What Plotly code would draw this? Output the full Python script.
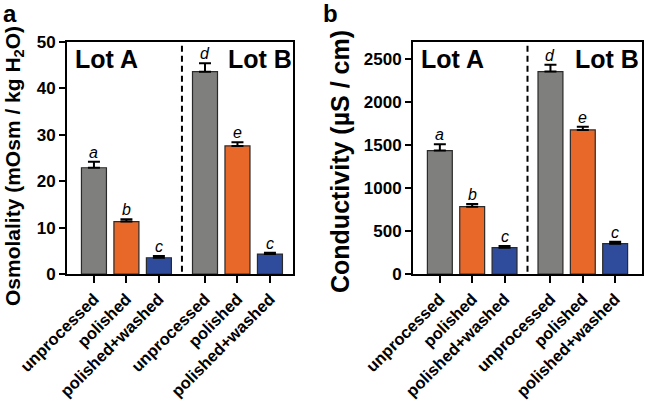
import plotly.graph_objects as go

# ---------------- data ----------------
categories = ["unprocessed", "polished", "polished+washed",
              "unprocessed", "polished", "polished+washed"]
lots = ["Lot A", "Lot B"]
osm_values = [22.9, 11.3, 3.5, 43.6, 27.6, 4.3]
osm_errors = [1.3, 0.5, 0.4, 1.8, 0.8, 0.3]
cond_values = [1436, 784, 306, 2356, 1677, 353]
cond_errors = [75, 30, 20, 78, 38, 22]
sig_letters = ["a", "b", "c", "d", "e", "c"]
osm_ticks = [0, 10, 20, 30, 40, 50]
cond_ticks = [0, 500, 1000, 1500, 2000, 2500]

# ---------------- style ----------------
W, H = 646, 404
FONT = "Liberation Sans, Arial, Helvetica, sans-serif"
colors = ["#7f7f7d", "#e8682a", "#2f4c9c"] * 2
GROUP_GAP = 0.42
xpos = [i + (GROUP_GAP if i >= 3 else 0) for i in range(len(categories))]
divider = (xpos[2] + xpos[3]) / 2

def px_x(p):
    return p / W

def px_y(p):
    return 1 - p / H

fig = go.Figure()

panels = [
    dict(vals=osm_values, errs=osm_errors, xa="x", ya="y",
         dom=[px_x(67), px_x(293)], rng=[-0.83, xpos[-1] + 0.71],
         yr=[0, 50], ticks=osm_ticks),
    dict(vals=cond_values, errs=cond_errors, xa="x2", ya="y2",
         dom=[px_x(413), px_x(642)], rng=[-0.83, xpos[-1] + 0.83],
         yr=[0, 2700], ticks=cond_ticks),
]

ydom = [px_y(274), px_y(42)]

for k, p in enumerate(panels):
    fig.add_trace(go.Bar(
        x=xpos, y=p["vals"], width=0.77,
        marker=dict(color=colors, line=dict(color="#2a2a2a", width=1.2)),
        error_y=dict(type="data", symmetric=False, array=p["errs"],
                     arrayminus=[0] * len(p["vals"]),
                     color="black", thickness=2, width=6),
        xaxis=p["xa"], yaxis=p["ya"], showlegend=False, hoverinfo="skip",
    ))
    sfx = "" if k == 0 else str(k + 1)
    fig.update_layout(**{
        "xaxis" + sfx: dict(
            domain=p["dom"], range=p["rng"], anchor=p["ya"],
            tickvals=xpos, ticktext=categories, tickangle=-45,
            tickfont=dict(family=FONT, size=16.5, color="black", weight="bold"),
            ticks="outside", ticklen=7, tickwidth=2, tickcolor="black",
            showline=True, linecolor="black", linewidth=2, mirror=True,
            showgrid=False, zeroline=False, automargin=False,
        ),
        "yaxis" + sfx: dict(
            domain=ydom, range=p["yr"], anchor=p["xa"],
            tickvals=p["ticks"],
            tickfont=dict(family=FONT, size=17, color="black", weight="bold"),
            ticks="outside", ticklen=6, tickwidth=2, tickcolor="black",
            showline=True, linecolor="black", linewidth=2, mirror=True,
            showgrid=False, zeroline=False, automargin=False,
        ),
    })
    # divider line
    fig.add_shape(type="line", xref=p["xa"], yref=p["ya"] + " domain",
                  x0=divider, x1=divider, y0=0.01, y1=0.99,
                  line=dict(color="black", width=2, dash="6px,4px"))
    # significance letters
    for xi, v, e, L in zip(xpos, p["vals"], p["errs"], sig_letters):
        fig.add_annotation(x=xi, y=v + e, xref=p["xa"], yref=p["ya"],
                           text="<i>" + L + "</i>", showarrow=False,
                           yanchor="bottom", yshift=-1,
                           font=dict(family=FONT, size=16, color="black"))

# Lot labels
for cx, L in [(106, "Lot A"), (260, "Lot B"), (452, "Lot A"), (607, "Lot B")]:
    fig.add_annotation(x=px_x(cx), y=px_y(59), xref="paper", yref="paper",
                       text="<b>" + L + "</b>", showarrow=False,
                       xanchor="center", yanchor="middle",
                       font=dict(family=FONT, size=25, color="black"))

# axis titles
fig.add_annotation(x=px_x(14), y=px_y(166), xref="paper", yref="paper",
                   text="<b>Osmolality (mOsm / kg H<sub>2</sub>O)</b>",
                   textangle=-90, showarrow=False,
                   xanchor="center", yanchor="middle",
                   font=dict(family=FONT, size=21, color="black"))
fig.add_annotation(x=px_x(340), y=px_y(162), xref="paper", yref="paper",
                   text="<b>Conductivity (µS / cm)</b>",
                   textangle=-90, showarrow=False,
                   xanchor="center", yanchor="middle",
                   font=dict(family=FONT, size=25, color="black"))

# panel letters
for x0, L in [(1, "a"), (321, "b")]:
    fig.add_annotation(x=px_x(x0), y=px_y(-2), xref="paper", yref="paper",
                       text="<b>" + L + "</b>", showarrow=False,
                       xanchor="left", yanchor="top",
                       font=dict(family=FONT, size=24, color="black"))

fig.update_layout(
    template="none",
    width=W, height=H, margin=dict(l=0, r=0, t=0, b=0, autoexpand=False),
    paper_bgcolor="white", plot_bgcolor="white",
    bargap=0, font=dict(family=FONT, color="black"),
)

fig.write_html("out.html",
               config={"displayModeBar": False, "staticPlot": True},
               post_script="document.body.style.margin='0';"
                           "document.body.style.overflow='hidden';")
